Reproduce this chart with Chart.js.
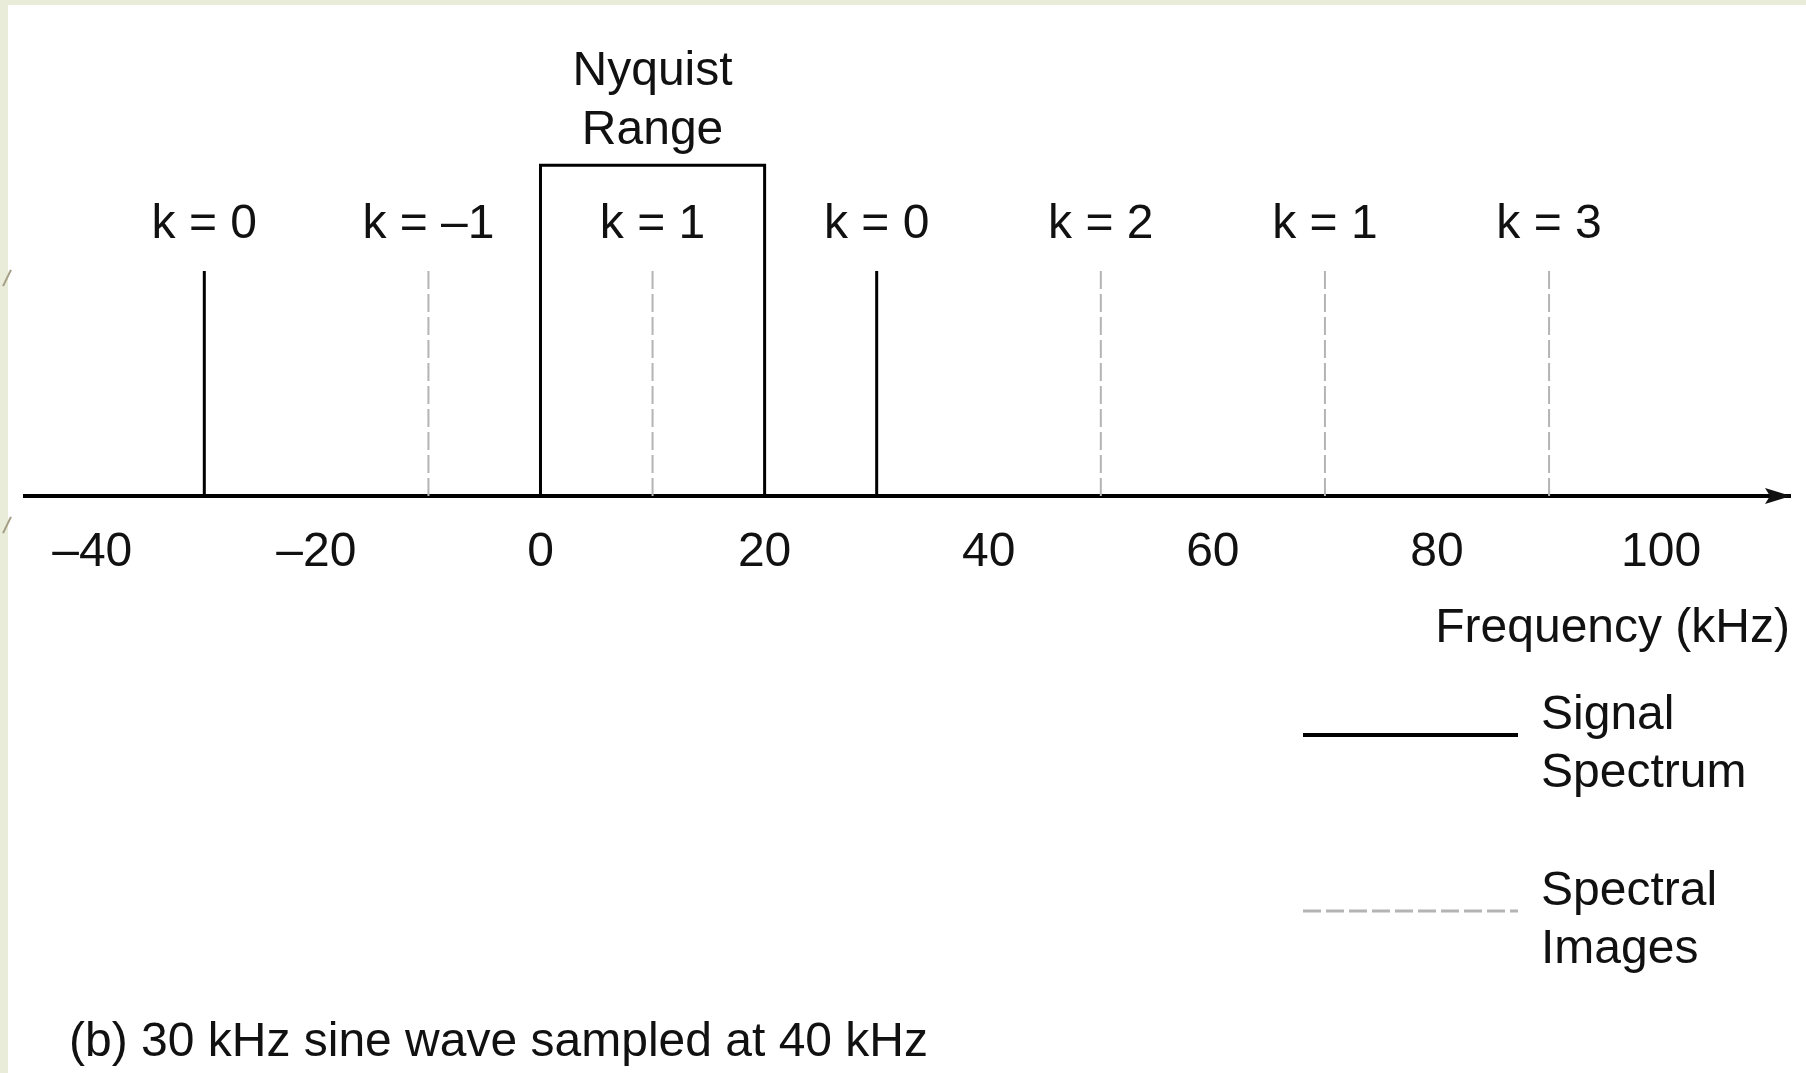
<!DOCTYPE html>
<html lang="en">
<head>
  <meta charset="UTF-8" />
  <title>30 kHz sine wave sampled at 40 kHz</title>
  <script src="https://cdn.jsdelivr.net/npm/chart.js"></script>
  <style>
    html, body {
      margin: 0;
      padding: 0;
      background: #fff;
      overflow: hidden;
    }
    #page {
      position: relative;
      width: 1806px;
      height: 1073px;
      background: #fff;
    }
    .strip-left {
      position: absolute;
      left: 0;
      top: 0;
      width: 8px;
      height: 1073px;
      background: #e8ecd8;
    }
    .strip-top {
      position: absolute;
      left: 0;
      top: 0;
      width: 1806px;
      height: 5px;
      background: #e8ecd8;
    }
    .deco {
      position: absolute;
      left: -2px;
      width: 18px;
      height: 2px;
      background: #a39e84;
      transform: rotate(-64deg);
    }
    canvas {
      position: absolute;
      left: 0;
      top: 0;
    }
  </style>
</head>
<body>
<div id="page">
  <div class="strip-left"></div>
  <div class="strip-top"></div>
  <div class="deco" style="top:277px"></div>
  <div class="deco" style="top:524px"></div>
  <canvas id="spectrum" width="1806" height="1073"></canvas>
</div>

<script>
  const FONT = '"Liberation Sans", Arial, Helvetica, sans-serif';
  const INK = '#111';

  // frequency axis (kHz)
  const xRange = [-46, 111.5];
  const tickValues = [-40, -20, 0, 20, 40, 60, 80, 100];
  const axisTitle = 'Frequency (kHz)';

  // spectrum lines
  const signalFreqs = [-30, 30];
  const imageFreqs = [-10, 10, 50, 70, 90];
  const lineHeight = 1;

  // Nyquist range box
  const nyquistBand = [0, 20];
  const nyquistHeight = 1.47;
  const nyquistTitle = ['Nyquist', 'Range'];

  // k labels over each line
  const kFreqs = [-30, -10, 10, 30, 50, 70, 90];
  const kLabels = ['k = 0', 'k = –1', 'k = 1', 'k = 0', 'k = 2', 'k = 1', 'k = 3'];

  const legendLabels = [['Signal', 'Spectrum'], ['Spectral', 'Images']];
  const caption = '(b) 30 kHz sine wave sampled at 40 kHz';

  // vertical stems separated by gaps
  function stems(freqs, h) {
    const pts = [];
    freqs.forEach(f => {
      pts.push({ x: f, y: 0 }, { x: f, y: h }, { x: f, y: null });
    });
    return pts;
  }

  const annotate = {
    id: 'annotate',
    afterDatasetsDraw(chart) {
      const { ctx, scales: { x, y } } = chart;
      ctx.save();
      ctx.fillStyle = INK;
      ctx.font = '48px ' + FONT;
      ctx.textAlign = 'center';
      ctx.textBaseline = 'middle';

      kFreqs.forEach((f, i) => {
        ctx.fillText(kLabels[i], x.getPixelForValue(f), y.getPixelForValue(1.205));
      });

      const nx = x.getPixelForValue((nyquistBand[0] + nyquistBand[1]) / 2);
      ctx.fillText(nyquistTitle[0], nx, y.getPixelForValue(1.885));
      ctx.fillText(nyquistTitle[1], nx, y.getPixelForValue(1.625));

      // arrow head at the end of the frequency axis
      const ax = x.right, ay = y.getPixelForValue(0);
      ctx.beginPath();
      ctx.moveTo(ax + 1, ay);
      ctx.lineTo(ax - 25, ay - 8);
      ctx.lineTo(ax - 20, ay);
      ctx.lineTo(ax - 25, ay + 8);
      ctx.closePath();
      ctx.fill();

      // legend
      const ds = chart.data.datasets;
      const rows = [735, 911];
      rows.forEach((ly, i) => {
        ctx.save();
        ctx.strokeStyle = ds[i].borderColor;
        ctx.lineWidth = ds[i].borderWidth + 1;
        ctx.setLineDash(ds[i].borderDash || []);
        ctx.beginPath();
        ctx.moveTo(1303, ly);
        ctx.lineTo(1518, ly);
        ctx.stroke();
        ctx.restore();
        ctx.textAlign = 'left';
        ctx.fillText(legendLabels[i][0], 1541, ly - 19);
        ctx.fillText(legendLabels[i][1], 1541, ly + 39);
      });

      ctx.textAlign = 'left';
      ctx.fillText(caption, 69, 1043);
      ctx.restore();
    }
  };

  const chart = new Chart(document.getElementById('spectrum'), {
    type: 'line',
    data: {
      datasets: [
        {
          label: 'Signal Spectrum',
          data: stems(signalFreqs, lineHeight),
          borderColor: '#000',
          borderWidth: 3,
          pointRadius: 0,
          spanGaps: false,
          fill: false
        },
        {
          label: 'Spectral Images',
          data: stems(imageFreqs, lineHeight),
          borderColor: '#b4b4b4',
          borderWidth: 2,
          borderDash: [18, 5],
          pointRadius: 0,
          spanGaps: false,
          fill: false
        },
        {
          label: 'Nyquist Range',
          data: [
            { x: nyquistBand[0], y: 0 },
            { x: nyquistBand[0], y: nyquistHeight },
            { x: nyquistBand[1], y: nyquistHeight },
            { x: nyquistBand[1], y: 0 }
          ],
          borderColor: '#000',
          borderWidth: 3,
          borderJoinStyle: 'miter',
          pointRadius: 0,
          fill: false
        }
      ]
    },
    options: {
      responsive: false,
      animation: false,
      events: [],
      layout: { padding: { left: 25, right: 16, top: 46, bottom: 413 } },
      plugins: {
        legend: { display: false },
        tooltip: { enabled: false }
      },
      scales: {
        x: {
          type: 'linear',
          min: xRange[0],
          max: xRange[1],
          afterBuildTicks: scale => {
            scale.ticks = tickValues.map(v => ({ value: v }));
          },
          afterFit: scale => { scale.height = 164; },
          grid: { display: false, drawTicks: false },
          border: { display: true, color: '#000', width: 4 },
          ticks: {
            color: INK,
            padding: 28,
            maxRotation: 0,
            autoSkip: false,
            font: { family: FONT, size: 48 },
            callback: v => (v < 0 ? '–' + Math.abs(v) : String(v))
          },
          title: {
            display: true,
            text: axisTitle,
            align: 'end',
            color: INK,
            font: { family: FONT, size: 48 },
            padding: { top: 0, bottom: 2 }
          }
        },
        y: {
          display: false,
          min: 0,
          max: 2
        }
      }
    },
    plugins: [annotate]
  });
</script>
</body>
</html>
